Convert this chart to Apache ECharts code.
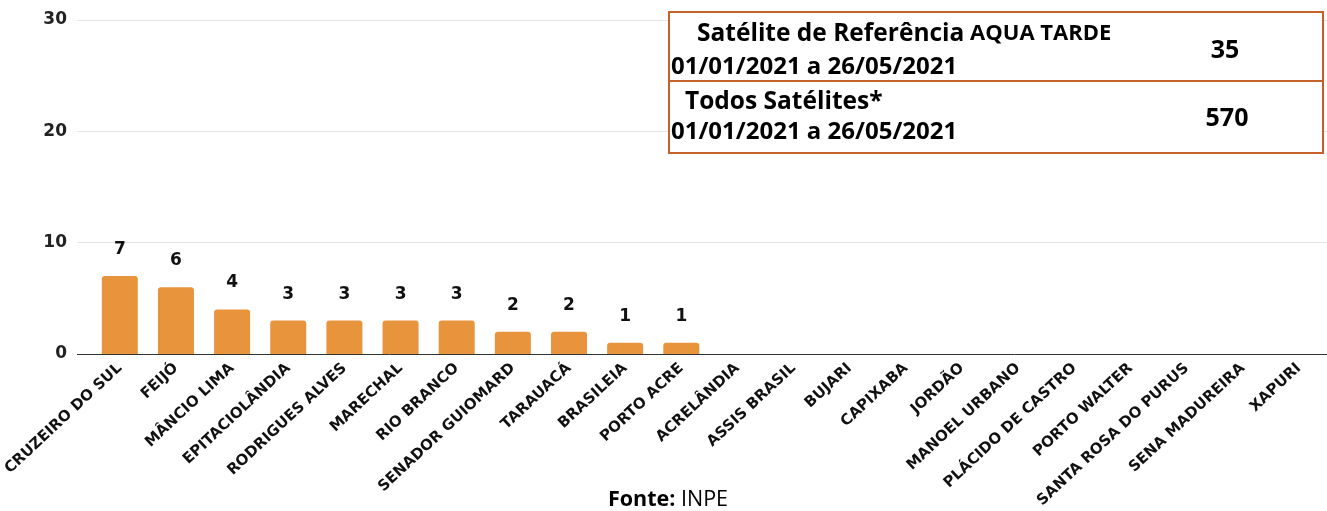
<!DOCTYPE html>
<html><head><meta charset="utf-8">
<script src="https://cdn.jsdelivr.net/npm/echarts@6/dist/echarts.min.js"></script>
<style>html,body{margin:0;padding:0;background:#fff}#c{width:1327px;height:511px}</style>
</head><body><div id="c"></div>
<script>
const categories = ["CRUZEIRO DO SUL","FEIJÓ","MÂNCIO LIMA","EPITACIOLÂNDIA","RODRIGUES ALVES","MARECHAL","RIO BRANCO","SENADOR GUIOMARD","TARAUACÁ","BRASILEIA","PORTO ACRE","ACRELÂNDIA","ASSIS BRASIL","BUJARI","CAPIXABA","JORDÃO","MANOEL URBANO","PLÁCIDO DE CASTRO","PORTO WALTER","SANTA ROSA DO PURUS","SENA MADUREIRA","XAPURI"];
const values = [7,6,4,3,3,3,3,2,2,1,1,0,0,0,0,0,0,0,0,0,0,0];
const yTicks = [0,10,20,30];
const tableRows = [
  {title:"Satélite de Referência", extra:" AQUA TARDE", period:"01/01/2021 a 26/05/2021", value:"35"},
  {title:"Todos Satélites*", extra:"", period:"01/01/2021 a 26/05/2021", value:"570"}
];
const source = {label:"Fonte:", name:" INPE"};

const chart = echarts.init(document.getElementById('c'));
const tf = "'Open Sans', 'Noto Sans', sans-serif";
const lf = "'DejaVu Sans', sans-serif";
const border = '#C5612A';
const yMin = yTicks[0], yMax = yTicks[yTicks.length-1], yStep = yTicks[1]-yTicks[0];
chart.setOption({
  animation:false,
  grid:[
    {left:88,right:0,top:20,bottom:157,containLabel:false},
    {left:77,right:0,top:20,bottom:157,containLabel:false}
  ],
  xAxis:[
    {type:'category',data:categories,gridIndex:0,
      axisLine:{show:false},axisTick:{show:false},
      axisLabel:{interval:0,rotate:43,margin:12,fontSize:15,fontWeight:'bold',color:'#111',fontFamily:lf}},
    {type:'value',gridIndex:1,min:0,max:1,show:false}
  ],
  yAxis:[
    {type:'value',gridIndex:0,min:yMin,max:yMax,interval:yStep,
      axisLabel:{show:false},splitLine:{show:false},axisLine:{show:false},axisTick:{show:false}},
    {type:'value',gridIndex:1,min:yMin,max:yMax,interval:yStep,
      axisLabel:{fontSize:17,fontWeight:'bold',color:'#222',margin:10,fontFamily:lf},
      splitLine:{lineStyle:{color:['#333','#e3e3e3','#e3e3e3','#e3e3e3']}},axisLine:{show:false},axisTick:{show:false}}
  ],
  series:[{type:'bar',data:values,barWidth:36,xAxisIndex:0,yAxisIndex:0,z:5,
    itemStyle:{color:'#E8943D',borderRadius:[3,3,0,0]},
    label:{show:true,position:'top',distance:18,fontSize:17,fontWeight:'bold',color:'#111',fontFamily:lf,
      formatter:p=>p.value>0?p.value:''}}],
  graphic:[
    {type:'rect',shape:{x:669,y:12,width:654,height:141},style:{fill:'#fff',stroke:border,lineWidth:2},z:10},
    {type:'line',shape:{x1:669,y1:81,x2:1323,y2:81},style:{stroke:border,lineWidth:2},z:11},
    {type:'text',x:697,y:34,z:12,style:{text:'{a|'+tableRows[0].title+'}{b|'+tableRows[0].extra+'}',verticalAlign:'middle',
      rich:{a:{fontSize:24.5,fontWeight:'bold',fontFamily:tf,fill:'#000',verticalAlign:'middle'},b:{fontSize:22,fontWeight:'bold',fontFamily:tf,fill:'#000',verticalAlign:'middle'}}}},
    {type:'text',x:671,y:67,z:12,style:{text:tableRows[0].period,fontSize:24,fontWeight:'bold',fontFamily:tf,fill:'#000',verticalAlign:'middle'}},
    {type:'text',x:1225,y:51,z:12,style:{text:tableRows[0].value,fontSize:25,fontWeight:'bold',fontFamily:tf,fill:'#000',verticalAlign:'middle',align:'center'}},
    {type:'text',x:685,y:102,z:12,style:{text:tableRows[1].title,fontSize:24.5,fontWeight:'bold',fontFamily:tf,fill:'#000',verticalAlign:'middle'}},
    {type:'text',x:671,y:132,z:12,style:{text:tableRows[1].period,fontSize:24,fontWeight:'bold',fontFamily:tf,fill:'#000',verticalAlign:'middle'}},
    {type:'text',x:1227,y:119,z:12,style:{text:tableRows[1].value,fontSize:25,fontWeight:'bold',fontFamily:tf,fill:'#000',verticalAlign:'middle',align:'center'}},
    {type:'text',x:608,y:500,z:12,style:{text:'{a|'+source.label+'}{b|'+source.name+'}',verticalAlign:'middle',
      rich:{a:{fontSize:21.5,fontWeight:'bold',fontFamily:tf,fill:'#000'},b:{fontSize:21.5,fontFamily:tf,fill:'#000'}}}}
  ]
});
</script></body></html>
